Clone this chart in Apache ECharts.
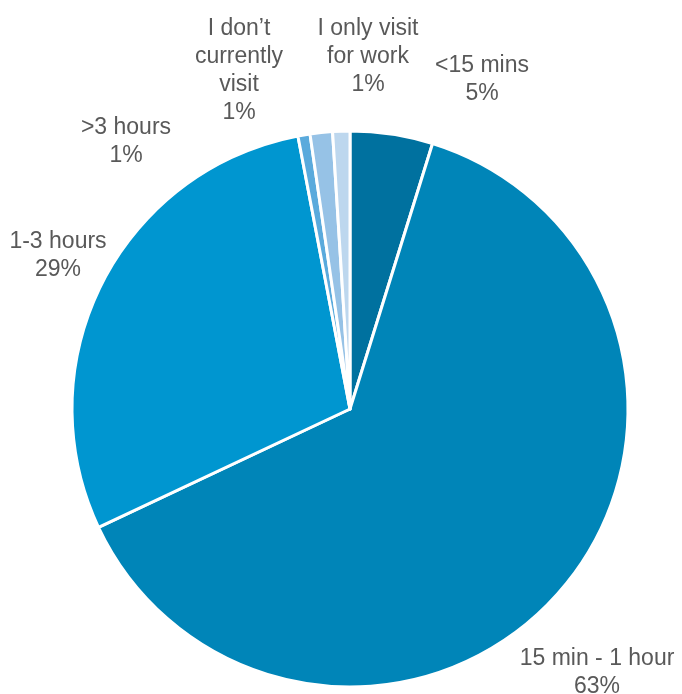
<!DOCTYPE html>
<html><head><meta charset="utf-8">
<script src="https://cdn.jsdelivr.net/npm/echarts@6/dist/echarts.min.js"></script>
<style>html,body{margin:0;padding:0;background:#fff}#c{width:682px;height:694px}</style>
</head><body><div id="c"></div>
<script>
const categories = ['<15 mins', '15 min - 1 hour', '1-3 hours', '>3 hours', 'I don\u2019t\ncurrently\nvisit', 'I only visit\nfor work'];
const values = [4.8, 63.2, 29.0, 0.7, 1.3, 1.0];
const labelsPct = ['5%', '63%', '29%', '1%', '1%', '1%'];
const colors = ['#00719f', '#0085b8', '#0096d0', '#5aaadc', '#96c2e6', '#bdd7ee'];
const labelPos = [[482, 80], [597, 673], [58, 256], [126, 142], [239, 71], [368, 57]];

const chart = echarts.init(document.getElementById('c'), null, {renderer: 'canvas'});
chart.setOption({
  animation: false,
  series: [{
    type: 'pie',
    center: [350, 409],
    radius: [0, 278],
    startAngle: 90,
    clockwise: true,
    data: categories.map((c, i) => ({name: c, value: values[i], itemStyle: {color: colors[i]}})),
    itemStyle: {borderColor: '#fff', borderWidth: 3},
    label: {
      show: true,
      position: 'outside',
      alignTo: 'none',
      overflow: 'none',
      bleedMargin: 0,
      formatter: p => p.name + '\n' + labelsPct[p.dataIndex],
      fontFamily: 'Liberation Sans, Arial, sans-serif',
      fontSize: 23,
      lineHeight: 28,
      color: '#595959',
      align: 'center'
    },
    labelLine: {show: false},
    labelLayout: p => ({x: labelPos[p.dataIndex][0], y: labelPos[p.dataIndex][1], align: 'center', verticalAlign: 'middle', hideOverlap: false})
  }]
});
</script></body></html>
